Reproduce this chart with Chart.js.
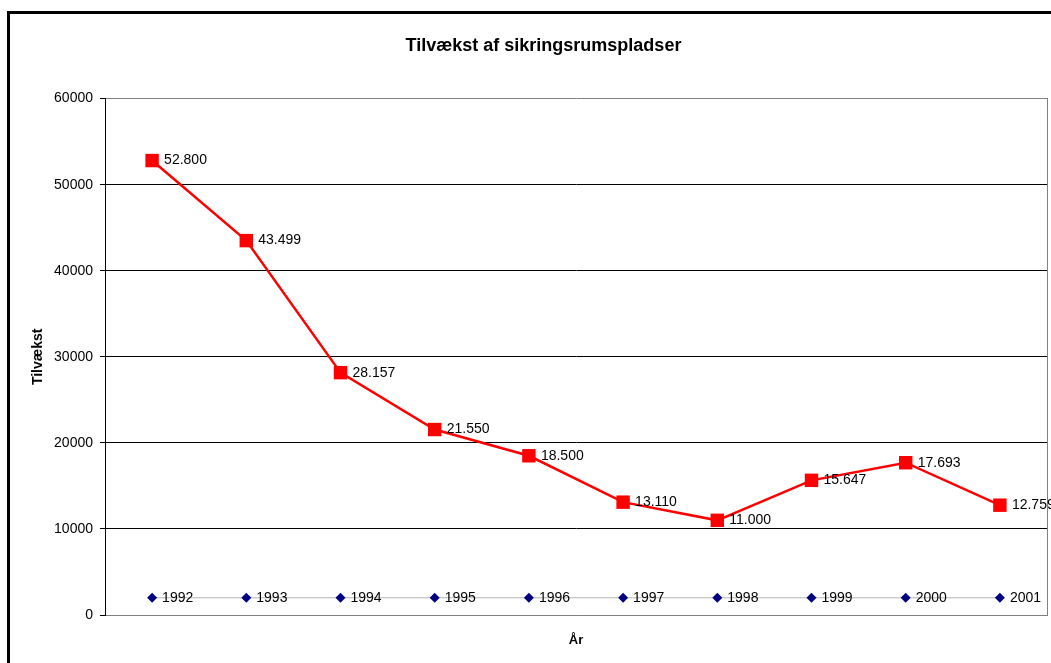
<!DOCTYPE html>
<html>
<head>
<meta charset="utf-8">
<script src="https://cdn.jsdelivr.net/npm/chart.js@4/dist/chart.umd.min.js"></script>
<style>
	html, body { margin: 0; padding: 0; background: #fff; overflow: hidden; }
	#frame { position: absolute; left: 7px; top: 11px; width: 1100px; height: 700px; border: 3px solid #000; }
	#historyChart { position: absolute; left: 0; top: 0; }
</style>
</head>
<body>
<div id="frame"></div>
<canvas id="historyChart" width="1087" height="663"></canvas>
<script>
// Data
const years = ['1992', '1993', '1994', '1995', '1996', '1997', '1998', '1999', '2000', '2001'];
const growth = [52800, 43499, 28157, 21550, 18500, 13110, 11000, 15647, 17693, 12759];
const yearRow = [2000, 2000, 2000, 2000, 2000, 2000, 2000, 2000, 2000, 2000];
const yMin = 0;
const yMax = 60000;
const yStep = 10000;

const fmt = (n) => n.toString().replace(/\B(?=(\d{3})+(?!\d))/g, '.');

Chart.defaults.font.family = '"Liberation Sans", Arial, sans-serif';
Chart.defaults.color = '#000';

const ctx = document.getElementById('historyChart').getContext('2d');
new Chart(ctx, {
	type: 'line',
	data: {
		labels: years,
		datasets: [{
			label: 'Tilvækst',
			data: growth,
			borderColor: '#ff0000',
			borderWidth: 2.5,
			backgroundColor: '#ff0000',
			pointStyle: 'rect',
			pointRadius: 9.5,
			pointBorderWidth: 0,
			clip: false,
			order: 0
		}, {
			label: 'År',
			data: yearRow,
			borderColor: '#b4b4b4',
			borderWidth: 1,
			backgroundColor: '#000080',
			pointBackgroundColor: '#000080',
			pointBorderColor: '#000080',
			pointStyle: 'rectRot',
			pointRadius: 5,
			pointBorderWidth: 0,
			clip: false,
			order: 1
		}]
	},
	options: {
		responsive: false,
		animation: false,
		layout: { padding: 0 },
		scales: {
			x: {
				offset: true,
				grid: { display: false },
				border: { color: '#808080', width: 1 },
				ticks: { display: false },
				title: {
					display: true,
					text: 'År',
					font: { weight: 'bold', size: 13 },
					padding: { top: 0, bottom: 15 }
				},
				afterFit: (scale) => { scale.height = 48; }
			},
			y: {
				min: yMin,
				max: yMax,
				ticks: {
					stepSize: yStep,
					font: { size: 14 },
					padding: 7,
					callback: (v) => v.toString()
				},
				grid: {
					color: (c) => (c.tick && (c.tick.value === yMax || c.tick.value === yMin)) ? '#808080' : '#000',
					tickColor: '#000',
					tickLength: 5,
					lineWidth: 1
				},
				border: { color: '#000', width: 1 },
				title: {
					display: true,
					text: 'Tilvækst',
					font: { weight: 'bold', size: 14 },
					padding: { top: 30, bottom: 0 }
				},
				afterFit: (scale) => { scale.width = 105; }
			},
			// right edge of the plot area only
			yRight: {
				position: 'right',
				min: yMin,
				max: yMax,
				ticks: { display: false },
				grid: { display: false, drawTicks: false },
				border: { color: '#808080', width: 1 },
				afterFit: (scale) => { scale.width = 40; }
			}
		},
		plugins: {
			legend: { display: false },
			tooltip: { enabled: false },
			title: {
				display: true,
				text: 'Tilvækst af sikringsrumspladser',
				font: { weight: 'bold', size: 18 },
				padding: { top: 35, bottom: 42 }
			}
		}
	},
	plugins: [{
		id: 'valueLabels',
		afterDatasetsDraw: (chart) => {
			const c = chart.ctx;
			c.save();
			c.textBaseline = 'middle';
			c.textAlign = 'left';
			c.font = '14px "Liberation Sans", Arial, sans-serif';
			c.fillStyle = '#000';
			chart.getDatasetMeta(0).data.forEach((point, i) => {
				const p = point.getCenterPoint();
				c.fillText(fmt(growth[i]), p.x + 12, p.y);
			});
			chart.getDatasetMeta(1).data.forEach((point, i) => {
				const p = point.getCenterPoint();
				c.fillText(years[i], p.x + 10, p.y);
			});
			c.restore();
		}
	}]
});
</script>
</body>
</html>
